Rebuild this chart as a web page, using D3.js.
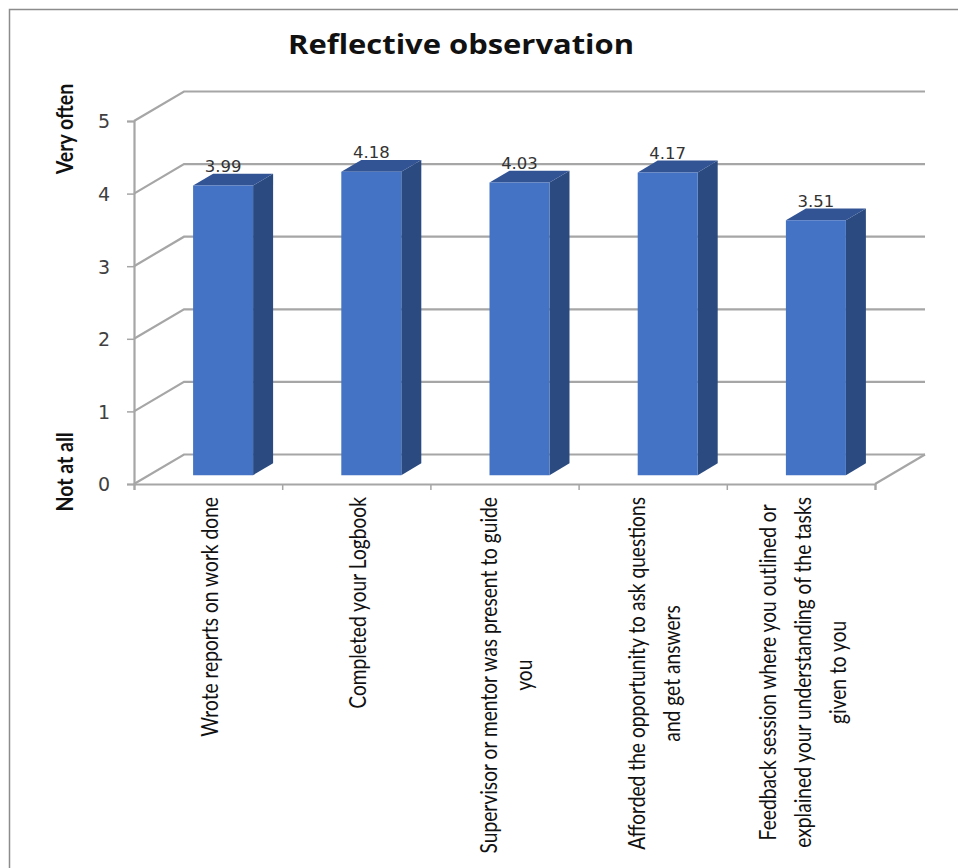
<!DOCTYPE html>
<html>
<head>
<meta charset="utf-8">
<script src="https://cdn.jsdelivr.net/npm/d3@7/dist/d3.min.js"></script>
<style>
  html, body { margin: 0; padding: 0; background: #fff; }
  svg { display: block; }
</style>
</head>
<body>
<svg id="chart" width="958" height="868"></svg>
<script>
// Survey means for the reflective observation items
const chartTitle = "Reflective observation";
const categoryLines = [
  ["Wrote reports on work done"],
  ["Completed your Logbook"],
  ["Supervisor or mentor was present to guide", "you"],
  ["Afforded the opportunity to ask questions", "and get answers"],
  ["Feedback session where you outlined or", "explained your understanding of the tasks", "given to you"]
];
const meanScores = [3.99, 4.18, 4.03, 4.17, 3.51];
const scoreTicks = [0, 1, 2, 3, 4, 5];
const scaleEndLabels = ["Very often", "Not at all"];

const svg = d3.select("#chart");

const gridColor = "#a6a6a6";
const frontColor = "#4472c4";
const sideColor = "#2a4a80";
const topColor = "#325495";

// Front plane of the box, with depth mapped onto an oblique offset
const xBand = d3.scaleBand().domain(d3.range(meanScores.length)).range([134, 875]);
const yScore = d3.scaleLinear().domain([0, 5]).range([484, 121]);
const depthX = d3.scaleLinear().domain([0, 1]).range([0, 50]);
const depthY = d3.scaleLinear().domain([0, 1]).range([0, -29.5]);
const barWidth = 60;
const barDepth = [0.3, 0.7];

const project = (x, score, depth) => [x + depthX(depth), yScore(score) + depthY(depth)];
const poly = pts => pts.map(p => p.map(v => v.toFixed(2)).join(",")).join(" ");

// Outer frame: top and left edges only
svg.append("path")
  .attr("d", "M9.5,868V9.5H958")
  .attr("fill", "none").attr("stroke", "#8c8c8c").attr("stroke-width", 1.5);

// Back wall gridlines and the diagonals running back from the score axis
const grid = svg.append("g").attr("fill", "none").attr("stroke", gridColor).attr("stroke-width", 2.2);
grid.selectAll("polyline.wall").data(scoreTicks).join("polyline")
  .attr("class", "wall")
  .attr("points", d => poly([project(134, d, 0), project(134, d, 1), project(875, d, 1)]));
grid.append("polyline")
  .attr("points", poly([project(875, 0, 0), project(875, 0, 1)]));

// Score axis
const yAxis = svg.append("g").attr("transform", "translate(134,0)")
  .call(d3.axisLeft(yScore).tickValues(scoreTicks).tickFormat(d3.format("d")).tickSize(7).tickPadding(17));
yAxis.select(".domain").attr("stroke", gridColor).attr("stroke-width", 2.2);
yAxis.selectAll(".tick line").attr("stroke", gridColor).attr("stroke-width", 1.5);
yAxis.selectAll("text")
  .attr("font-family", "'DejaVu Sans'")
  .attr("font-size", 19)
  .attr("fill", "#404040")
  .attr("dy", "0.36em");

// Category axis with ticks between the groups
const xEdges = d3.scaleLinear().domain([0, meanScores.length]).range([134, 875]);
const xAxis = svg.append("g").attr("transform", `translate(0,${yScore(0)})`)
  .call(d3.axisBottom(xEdges).ticks(meanScores.length).tickFormat("").tickSize(6));
xAxis.select(".domain").attr("stroke", gridColor).attr("stroke-width", 2.2);
xAxis.selectAll(".tick line").attr("stroke", gridColor).attr("stroke-width", 1.5);

// Bars: side and top faces sit behind the front face
const bars = svg.append("g").selectAll("g").data(meanScores).join("g");
const barLeft = i => xBand(i) + xBand.bandwidth() / 2 - barWidth / 2;

bars.append("polygon").attr("fill", sideColor).attr("points", (d, i) => {
  const r = barLeft(i) + barWidth;
  return poly([project(r, 0, barDepth[0]), project(r, 0, barDepth[1]), project(r, d, barDepth[1]), project(r, d, barDepth[0])]);
});
bars.append("polygon").attr("fill", topColor).attr("points", (d, i) => {
  const l = barLeft(i), r = l + barWidth;
  return poly([project(l, d, barDepth[0]), project(r, d, barDepth[0]), project(r, d, barDepth[1]), project(l, d, barDepth[1])]);
});
bars.append("polygon").attr("fill", frontColor).attr("points", (d, i) => {
  const l = barLeft(i), r = l + barWidth;
  return poly([project(l, 0, barDepth[0]), project(r, 0, barDepth[0]), project(r, d, barDepth[0]), project(l, d, barDepth[0])]);
});

// Value labels just above the back edge of each bar top
bars.append("text")
  .attr("x", (d, i) => project(barLeft(i) + barWidth / 2, d, barDepth[0])[0])
  .attr("y", (d, i) => project(0, d, barDepth[1])[1] - 1.5)
  .attr("text-anchor", "middle")
  .attr("font-family", "'DejaVu Sans'")
  .attr("font-size", 16.5)
  .attr("fill", "#333")
  .text(d => d3.format(".2f")(d));

// Title
svg.append("text")
  .attr("x", 461).attr("y", 54)
  .attr("text-anchor", "middle")
  .attr("font-family", "'Open Sans'")
  .attr("font-weight", 700)
  .attr("font-size", 26)
  .attr("textLength", 346)
  .attr("lengthAdjust", "spacingAndGlyphs")
  .attr("fill", "#111")
  .text(chartTitle);

// Rotated text reads bottom to top; alongText stretches it along its baseline
function rotatedText(parent, x, y, str, alongText) {
  return parent.append("text")
    .attr("transform", `translate(${x},${y}) rotate(-90) scale(${alongText},1)`)
    .attr("text-anchor", "middle")
    .text(str);
}

// Scale end captions
const captions = svg.append("g")
  .attr("font-family", "Lato").attr("font-weight", 700).attr("font-size", 23).attr("fill", "#111");
rotatedText(captions, 73, 129, scaleEndLabels[0], 0.85);
rotatedText(captions, 73, 472, scaleEndLabels[1], 0.85);

// Multi-line category labels, hung from a common top line below the axis
const labelTop = 497, lineStep = 35, labelStretch = 0.835;
const labelGroup = svg.append("g")
  .attr("font-family", "Lato").attr("font-size", 23).attr("fill", "#111");
categoryLines.forEach((lines, i) => {
  const cx = xBand(i) + xBand.bandwidth() / 2;
  const nodes = lines.map((line, k) => {
    const baseline = cx + 10 + (k - (lines.length - 1) / 2) * lineStep;
    return rotatedText(labelGroup, baseline, 0, line, labelStretch);
  });
  const longest = d3.max(nodes, n => n.node().getComputedTextLength()) * labelStretch;
  nodes.forEach((n, k) => {
    const baseline = cx + 10 + (k - (lines.length - 1) / 2) * lineStep;
    n.attr("transform", `translate(${baseline},${labelTop + longest / 2}) rotate(-90) scale(${labelStretch},1)`);
  });
});
</script>
</body>
</html>
